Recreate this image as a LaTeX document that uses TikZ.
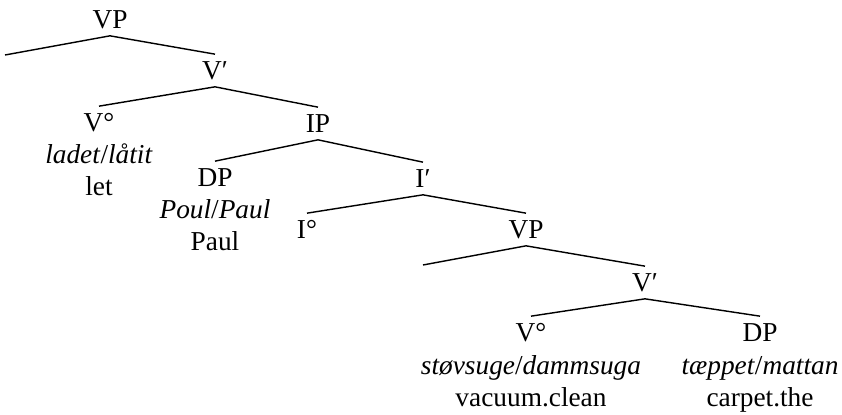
\documentclass[tikz,border=0pt]{standalone}
\usepackage{fontspec}
\setmainfont{Liberation Serif}
\begin{document}
\begin{tikzpicture}[x=0.6pt,y=-0.6pt,
  cat/.style={anchor=base,inner sep=0pt,text height=15.3pt,text depth=3.9pt,font=\fontsize{16.4}{19}\selectfont},
  word/.style={anchor=base,inner sep=0pt,font=\fontsize{16.4}{19}\selectfont},
  branch/.style={line width=0.85pt}]
\useasboundingbox (0,0) rectangle (842,415);
% categories
\node[cat] (vp1) at (110,29) {VP};
\node[cat] (vb1) at (215,80) {V′};
\node[cat] (v01) at (99,132) {V°};
\node[cat] (ip) at (318,133) {IP};
\node[cat] (dp1) at (215,187) {DP};
\node[cat] (ib) at (423,188) {I′};
\node[cat] (i0) at (307,239) {I°};
\node[cat] (vp2) at (526,239) {VP};
\node[cat] (vb2) at (645,292) {V′};
\node[cat] (v02) at (531,342) {V°};
\node[cat] (dp2) at (760,342) {DP};
% empty leaves
\coordinate (e1) at (5,55);
\coordinate (e2) at (423,265);
% words
\node[word] (w1a) at (99,164) {\textit{ladet}/\textit{låtit}};
\node[word] (w1b) at (99,196) {let};
\node[word] (w2a) at (215,219) {\textit{Poul}/\textit{Paul}};
\node[word] (w2b) at (215,251) {Paul};
\node[word] (w3a) at (531,374) {\textit{støvsuge}/\textit{dammsuga}};
\node[word] (w3b) at (531,406) {vacuum.clean};
\node[word] (w4a) at (760,374) {\textit{tæppet}/\textit{mattan}};
\node[word] (w4b) at (760,406) {carpet.the};
% branches
\draw[branch] (e1) -- (vp1.south) -- (vb1.north);
\draw[branch] (v01.north) -- (vb1.south) -- (ip.north);
\draw[branch] (dp1.north) -- (ip.south) -- (ib.north);
\draw[branch] (i0.north) -- (ib.south) -- (vp2.north);
\draw[branch] (e2) -- (vp2.south) -- (vb2.north);
\draw[branch] (v02.north) -- (vb2.south) -- (dp2.north);
\end{tikzpicture}
\end{document}
